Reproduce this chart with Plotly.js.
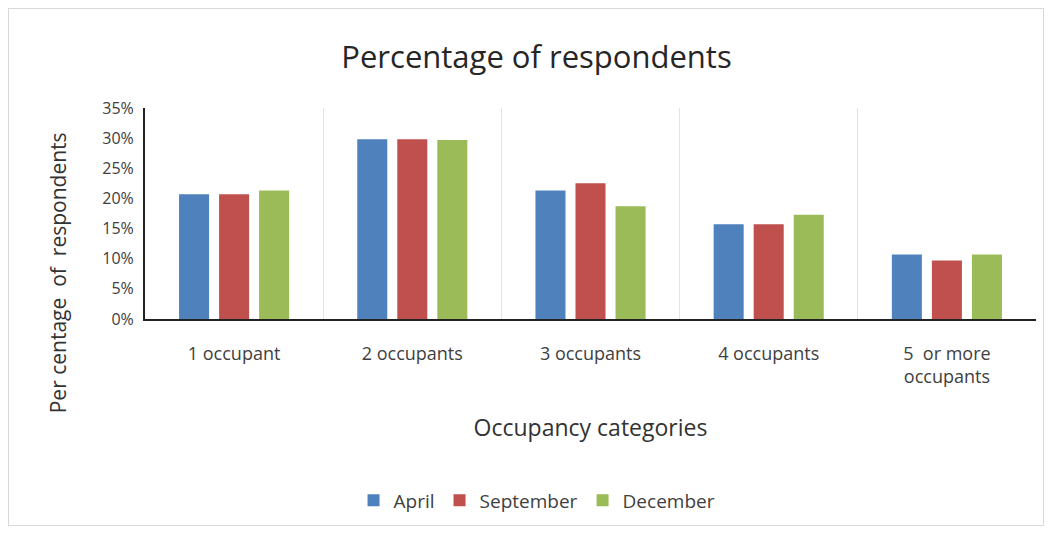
<!DOCTYPE html>
<html><head><meta charset="utf-8">
<script src="https://cdn.plot.ly/plotly-3.0.1.min.js"></script>
<style>
html,body{margin:0;padding:0;background:#fff;}
#frame{position:absolute;left:8px;top:8px;width:1036px;height:518px;border:1px solid #d9d9d9;box-sizing:border-box;}
#chart{position:absolute;left:0;top:0;width:1052px;height:535px;}
</style></head>
<body>
<div id="frame"></div>
<div id="chart"></div>
<script>
const categories = ["1 occupant", "2 occupants", "3 occupants", "4 occupants", "5  or more<br>occupants"];
const april = [0.207, 0.298, 0.213, 0.157, 0.107];
const september = [0.207, 0.298, 0.225, 0.157, 0.097];
const december = [0.213, 0.297, 0.187, 0.173, 0.107];
const seriesNames = ["April", "September", "December"];
const colors = ["#4f81bd", "#c0504d", "#9bbb59"];
const yTitle = "Per centage  of  respondents";
const font = "'Open Sans', sans-serif";

const traces = [april, september, december].map((vals, i) => ({
  type: "bar", x: categories, y: vals, name: seriesNames[i],
  marker: {color: colors[i]}, hoverinfo: "none"
}));

const layout = {
  width: 1052, height: 535,
  paper_bgcolor: "rgba(0,0,0,0)", plot_bgcolor: "rgba(0,0,0,0)",
  margin: {l: 145, r: 16, t: 108, b: 216},
  font: {family: font, color: "#404040", size: 16},
  title: {text: "Percentage of respondents", x: 0.51, xanchor: "center", y: 0.893, yanchor: "middle",
          font: {family: font, size: 31, color: "#262626"}},
  barmode: "group", bargap: 0.326, bargroupgap: 0.25,
  showlegend: true,
  legend: {orientation: "h", x: 0.44, xanchor: "center", y: -0.86, yanchor: "middle",
           font: {family: font, size: 19, color: "#404040"}, itemwidth: 30, traceorder: "normal"},
  xaxis: {
    type: "category", tickson: "boundaries", showgrid: true, gridcolor: "#e3e3e3", gridwidth: 1,
    showline: true, linecolor: "#222", linewidth: 2, ticks: "", ticklabelstandoff: 17,
    tickfont: {family: font, size: 18, color: "#404040"},
    title: {text: "Occupancy categories", standoff: 33, font: {family: font, size: 23, color: "#333"}},
    zeroline: false
  },
  yaxis: {
    range: [0, 0.35], dtick: 0.05, tickformat: ".0%", showgrid: false, zeroline: false,
    showline: true, linecolor: "#222", linewidth: 2, ticks: "", ticklabelstandoff: 6,
    tickfont: {family: font, size: 16, color: "#404040"}
  },
  annotations: [{
    text: yTitle, textangle: -90, showarrow: false,
    xref: "paper", yref: "paper", x: -0.098, y: 0.22, xanchor: "center", yanchor: "middle",
    font: {family: font, size: 21, color: "#333"}
  }]
};
Plotly.newPlot("chart", traces, layout, {staticPlot: true, displayModeBar: false});
</script>
</body></html>
